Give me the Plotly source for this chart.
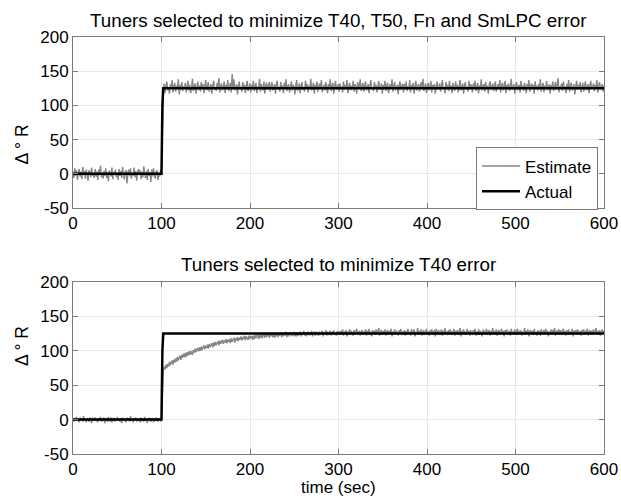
import numpy as np
import plotly.graph_objects as go

# ---------------- data ----------------
# Actual (true) step, same in both panels
actual_t = [0, 100, 101, 102, 600]
actual_v = [0, 0, 100, 125, 125]

# Top panel estimate (tuners for T40, T50, Fn, SmLPC): before step (t 0..100) and after (t 102..600)
top_pre = [2, -6, 8, -3, 5, -9, 1, 7, -4, 3, -8, 10, -2, 4, -7, 6, -1, -10, 5, 2, -5, 9, -3, 1, -6,
           7, -4, 3, -9, 6, -2, 12, -5, 1, -7, 4, -3, 8, -6, 2, -11, 5, 0, -4, 9, -8, 3, -2, 6, -5,
           1, -9, 7, -3, 4, -6, 10, -1, -8, 3, 5, -14, 2, 6, -4, 8, -7, 1, -3, 9, -5, 4, -10, 2, 7,
           -2, 5, -8, 3, -5, 11, -1, -6, 4, -9, 7, -3, 2, -12, 6, -4, 8, -2, -7, 3, 5, -9, 1, -4, 6, 0]
top_post = [121, 132, 118, 128, 135, 122, 126, 117, 131, 124, 137, 119, 127, 133, 120, 129, 125, 138, 116, 130, 123, 134, 121, 128, 126,
            133, 119, 127, 136, 122, 130, 118, 125, 139, 121, 128, 132, 117, 126, 135, 123, 129, 120, 134, 124, 131, 118, 127, 137, 122,
            128, 134, 120, 126, 131, 117, 129, 136, 123, 127, 121, 133, 125, 140, 119, 128, 132, 122, 126, 135, 118, 130, 124, 137, 121,
            127, 133, 119, 146, 124, 138, 122, 126, 131, 116, 128, 135, 123, 127, 120, 134, 126, 130, 118, 129, 136, 121, 125, 132, 119,
            130, 124, 136, 121, 127, 133, 118, 128, 125, 139, 120, 131, 126, 122, 135, 117, 129, 133, 123, 127, 134, 120, 128, 134, 122,
            126, 131, 117, 130, 136, 123, 127, 120, 134, 125, 129, 118, 133, 124, 138, 121, 128, 131, 119, 126, 135, 122, 130, 127, 116,
            129, 137, 121, 125, 132, 118, 128, 134, 123, 127, 120, 136, 126, 131, 119, 129, 124, 139, 122, 127, 133, 117, 130, 125, 135,
            120, 128, 132, 124, 137, 119, 126, 130, 122, 134, 127, 118, 131, 125, 138, 121, 129, 133, 117, 128, 136, 123, 126, 131, 120,
            132, 125, 128, 119, 135, 123, 130, 126, 137, 118, 127, 133, 122, 129, 124, 136, 120, 131, 127, 117, 134, 125, 129, 138, 121,
            127, 133, 120, 128, 135, 122, 126, 131, 118, 129, 137, 124, 127, 121, 134, 126, 130, 119, 128, 136, 123, 125, 132, 117, 130,
            124, 136, 121, 129, 133, 118, 127, 131, 125, 138, 120, 128, 134, 122, 126, 130, 116, 129, 135, 123, 127, 132, 119, 131, 126,
            135, 121, 128, 124, 137, 119, 130, 126, 133, 117, 128, 136, 122, 127, 131, 120, 129, 134, 125, 139, 121, 126, 132, 118, 128,
            133, 122, 127, 136, 119, 130, 125, 131, 117, 128, 135, 123, 126, 132, 120, 129, 137, 124, 127, 118, 134, 126, 130, 121, 136,
            125, 129, 118, 133, 127, 121, 135, 124, 130, 119, 128, 137, 122, 126, 132, 117, 129, 134, 123, 127, 120, 136, 125, 131, 128,
            119, 132, 126, 136, 121, 127, 133, 118, 129, 125, 138, 122, 128, 131, 120, 134, 126, 129, 117, 130, 135, 123, 127, 132, 121,
            128, 135, 120, 126, 131, 124, 137, 119, 129, 133, 122, 127, 136, 118, 130, 125, 132, 121, 128, 139, 123, 126, 131, 117, 129,
            134, 122, 127, 130, 119, 136, 125, 129, 121, 133, 127, 118, 131, 126, 137, 120, 128, 132, 124, 130, 117, 135, 126, 129, 122,
            131, 125, 138, 120, 127, 133, 119, 129, 124, 136, 122, 128, 131, 117, 130, 126, 135, 121, 127, 134, 123, 129, 140, 119, 128,
            126, 132, 121, 135, 124, 128, 118, 131, 127, 137, 120, 129, 133, 122, 126, 131, 116, 128, 136, 123, 130, 125, 134, 119, 127,
            133, 120, 128, 135, 122, 127, 131, 118, 129, 136, 124, 126, 132, 121, 130, 127, 137, 119, 128, 134, 123, 126, 131, 120, 129]

# Bottom panel estimate (tuners for T40 only)
bot_pre = [1, -3, 2, -1, 4, -2, 0, -4, 3, -1, 2, -3, 5, -2, 1, -4, 2, 0, -3, 3, -1, -5, 2, 1, -2,
           3, -2, 0, -4, 2, -1, 4, -3, 1, -2, 3, -5, 2, 0, -3, 4, -1, -2, 3, -4, 1, 2, -3, 0, -1,
           4, -2, 1, -3, 2, -5, 3, 0, -2, 1, -4, 3, -1, 2, -3, 5, -2, 0, -4, 2, -1, 3, -3, 1, -2,
           2, -4, 3, -1, 0, -3, 4, -2, 1, -5, 2, -1, 3, -3, 0, 2, -4, 1, -2, 3, -1, -3, 2, 0, -2, 0]
bot_post = [71, 77, 73, 80, 75, 81, 77, 84, 79, 83, 86, 80, 87, 83, 89, 84, 91, 86, 90, 93, 87, 94, 90, 96, 91,
            97, 91, 98, 93, 99, 94, 100, 96, 95, 101, 97, 103, 98, 102, 104, 99, 105, 100, 106, 101, 105, 108, 102, 107, 104,
            109, 103, 110, 105, 108, 111, 105, 112, 107, 113, 108, 111, 114, 108, 115, 110, 113, 116, 110, 115, 112, 117, 111, 116, 113,
            117, 111, 118, 113, 116, 119, 112, 118, 115, 120, 114, 119, 116, 121, 115, 120, 117, 122, 115, 121, 118, 116, 122, 117, 121,
            121, 116, 122, 117, 123, 118, 122, 124, 117, 123, 119, 125, 118, 122, 124, 119, 125, 120, 123, 126, 119, 124, 121, 126, 120,
            125, 119, 124, 121, 126, 120, 125, 122, 127, 120, 125, 121, 126, 122, 128, 120, 126, 121, 125, 127, 121, 126, 122, 128, 121,
            126, 121, 127, 122, 125, 128, 121, 126, 123, 129, 122, 127, 121, 126, 128, 122, 127, 123, 129, 121, 126, 127, 122, 128, 123,
            127, 122, 128, 123, 126, 129, 121, 127, 124, 130, 122, 128, 123, 127, 129, 122, 128, 124, 130, 123, 127, 122, 129, 124, 128,
            123, 129, 124, 131, 122, 128, 125, 130, 121, 128, 124, 131, 123, 129, 125, 122, 130, 124, 128, 132, 123, 127, 129, 122, 128,
            130, 123, 128, 125, 131, 122, 129, 124, 132, 123, 128, 121, 130, 125, 129, 123, 131, 124, 128, 133, 122, 127, 130, 123, 129,
            124, 131, 122, 128, 130, 123, 129, 125, 132, 121, 128, 124, 131, 123, 129, 126, 122, 130, 125, 132, 123, 128, 124, 130, 122,
            129, 123, 132, 125, 128, 122, 131, 124, 129, 130, 121, 128, 125, 133, 123, 129, 124, 131, 122, 128, 130, 123, 127, 132, 124,
            128, 122, 130, 125, 131, 123, 128, 129, 121, 132, 124, 128, 130, 123, 127, 131, 122, 129, 125, 133, 124, 128, 123, 130, 125,
            131, 123, 128, 124, 132, 122, 129, 125, 130, 123, 128, 133, 121, 129, 125, 131, 124, 128, 123, 132, 125, 129, 122, 130, 126,
            123, 130, 125, 132, 122, 128, 124, 131, 123, 129, 126, 121, 131, 125, 129, 124, 132, 123, 128, 130, 122, 129, 125, 133, 124,
            129, 124, 131, 122, 128, 130, 123, 127, 132, 124, 129, 121, 130, 126, 131, 123, 127, 129, 122, 132, 125, 128, 124, 131, 123,
            128, 132, 123, 129, 125, 130, 122, 128, 124, 133, 123, 129, 125, 131, 121, 128, 130, 124, 129, 123, 132, 125, 128, 122, 130,
            125, 129, 122, 131, 124, 128, 130, 123, 132, 125, 129, 121, 128, 124, 131, 123, 130, 125, 133, 122, 128, 129, 124, 131, 123,
            130, 123, 128, 132, 124, 129, 122, 130, 125, 131, 123, 128, 124, 132, 121, 129, 125, 130, 123, 131, 128, 124, 129, 122, 130,
            128, 131, 123, 129, 125, 132, 122, 128, 130, 124, 129, 123, 131, 125, 128, 133, 123, 129, 124, 130, 122, 128, 131, 125, 129]

x_ticks = [0, 100, 200, 300, 400, 500, 600]
y_ticks = [-50, 0, 50, 100, 150, 200]
y_tick_text = ["-50", "0", "50", "100", "150", "200"]
titles = ["Tuners selected to minimize T40, T50, Fn and SmLPC error",
          "Tuners selected to minimize T40 error"]


def sample_times(pre, post):
    t = list(np.linspace(0, 100, len(pre))) + list(np.linspace(102, 600, len(post)))
    return t, list(pre) + list(post)


top_t, top_v = sample_times(top_pre, top_post)
bot_t, bot_v = sample_times(bot_pre, bot_post)

# ---------------- figure ----------------
FONT = "Liberation Sans, Arial, sans-serif"
EST_COLOR = "#858585"
FRAME = "#7a7a7a"
est_line = dict(color=EST_COLOR, width=1.4, simplify=False)
act_line = dict(color="black", width=2.5, simplify=False)

fig = go.Figure()
fig.add_trace(go.Scatter(x=top_t, y=top_v, mode="lines", name="Estimate",
                         line=est_line, xaxis="x", yaxis="y"))
fig.add_trace(go.Scatter(x=actual_t, y=actual_v, mode="lines", name="Actual",
                         line=act_line, xaxis="x", yaxis="y"))
fig.add_trace(go.Scatter(x=bot_t, y=bot_v, mode="lines", name="Estimate", showlegend=False,
                         line=est_line, xaxis="x2", yaxis="y2"))
fig.add_trace(go.Scatter(x=actual_t, y=actual_v, mode="lines", name="Actual", showlegend=False,
                         line=act_line, xaxis="x2", yaxis="y2"))

axis_common = dict(showgrid=True, gridcolor="#e8e8e8", gridwidth=1,
                   showline=True, linecolor=FRAME, linewidth=1, mirror="ticks",
                   ticks="inside", ticklen=5, tickcolor=FRAME, automargin=False,
                   zeroline=False, tickfont=dict(family=FONT, size=17, color="black"))

fig.update_layout(
    width=621, height=499,
    margin=dict(l=73, r=17, t=37, b=45),
    paper_bgcolor="white", plot_bgcolor="white",
    xaxis=dict(domain=[0, 1], range=[0, 600], tickvals=x_ticks, anchor="y", **axis_common),
    yaxis=dict(domain=[0.59, 1.0], range=[-50, 200], tickvals=y_ticks, ticktext=y_tick_text,
               anchor="x", **axis_common),
    xaxis2=dict(domain=[0, 1], range=[0, 600], tickvals=x_ticks, anchor="y2", **axis_common),
    yaxis2=dict(domain=[0.0, 0.4125], range=[-50, 200], tickvals=y_ticks, ticktext=y_tick_text,
                anchor="x2", **axis_common),
    showlegend=True,
    legend=dict(x=0.9887, y=0.6595, xanchor="right", yanchor="middle", itemwidth=38,
                bgcolor="white", bordercolor=FRAME, borderwidth=1,
                font=dict(family=FONT, size=17, color="black"), tracegroupgap=0),
    annotations=[
        dict(text=titles[0], xref="paper", yref="paper", x=0.5, y=1.0, yshift=17, yanchor="middle",
             showarrow=False, font=dict(family=FONT, size=18.8, color="black")),
        dict(text=titles[1], xref="paper", yref="paper", x=0.5, y=0.4125, yshift=17, yanchor="middle",
             showarrow=False, font=dict(family=FONT, size=18.8, color="black")),
        dict(text="Δ ° R", xref="paper", yref="paper", x=0, xshift=-51, y=0.795, xanchor="center",
             textangle=-90, showarrow=False, font=dict(family=FONT, size=17.5, color="black")),
        dict(text="Δ ° R", xref="paper", yref="paper", x=0, xshift=-51, y=0.206, xanchor="center",
             textangle=-90, showarrow=False, font=dict(family=FONT, size=17.5, color="black")),
        dict(text="time (sec)", xref="paper", yref="paper", x=0.5, y=0, yshift=-33, yanchor="middle",
             showarrow=False, font=dict(family=FONT, size=17, color="black")),
    ],
)

# remove the browser's default 8px body margin so the 621x499 figure fills the window
fig.write_html("out.html", config={"displayModeBar": False},
               post_script="document.body.style.margin='0';document.body.style.overflow='hidden';")
